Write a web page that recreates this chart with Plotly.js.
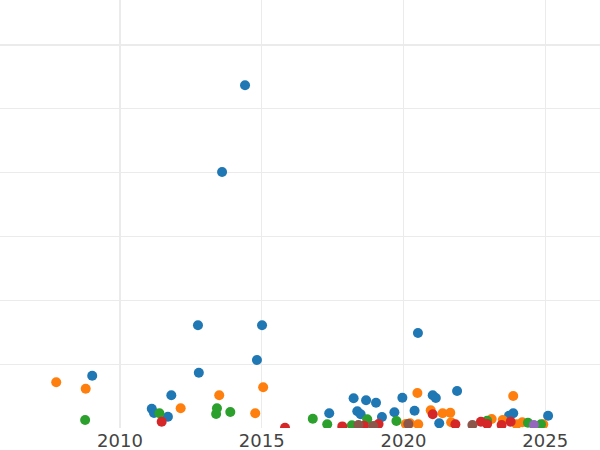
<!DOCTYPE html>
<html>
<head>
<meta charset="utf-8">
<script src="https://cdn.plot.ly/plotly-3.0.1.min.js"></script>
<style>html,body{margin:0;padding:0;background:#fff;}#chart{width:600px;height:450px;}</style>
</head>
<body>
<div id="chart"></div>
<script>
// Series values (x = year, y = value)
const seriesNames = ["A", "B", "C", "D", "E", "F"];
const seriesColors = ["#1f77b4", "#ff7f0e", "#2ca02c", "#d62728", "#9467bd", "#8c564b"];

const blueX = [2014.41, 2013.60, 2012.75, 2015.01, 2014.83, 2012.78, 2009.02, 2011.81, 2011.12, 2011.20, 2011.69,
  2020.51, 2018.24, 2018.68, 2019.03, 2018.37, 2018.49, 2019.24, 2019.68, 2019.96, 2017.38, 2020.39,
  2021.03, 2021.14, 2021.89, 2021.26, 2023.72, 2023.87, 2025.10];
const blueY = [53.7, 40.1, 16.1, 16.1, 10.65, 8.66, 8.19, 5.12, 3.02, 2.35, 1.77,
  14.88, 4.65, 4.34, 3.96, 2.62, 2.15, 1.72, 2.46, 4.75, 2.30, 2.71,
  5.12, 4.70, 5.80, 0.74, 1.93, 2.30, 1.93];

const orangeX = [2007.75, 2008.79, 2013.50, 2012.14, 2015.05, 2014.77, 2020.49, 2020.96, 2021.38, 2021.65, 2021.68,
  2020.23, 2020.52, 2020.08, 2023.11, 2023.50, 2023.87, 2023.99, 2024.19, 2024.93];
const orangeY = [7.16, 6.16, 5.12, 3.09, 6.38, 2.30, 5.48, 2.77, 2.30, 2.40, 0.89,
  0.74, 0.58, 0.63, 1.41, 1.25, 5.01, 0.58, 0.89, 0.58];

const greenX = [2008.77, 2011.39, 2013.42, 2013.39, 2013.89, 2016.80, 2017.31, 2018.18, 2018.72, 2019.75, 2022.95, 2024.39, 2024.85];
const greenY = [1.25, 2.30, 3.09, 2.19, 2.51, 1.46, 0.58, 0.42, 1.36, 1.10, 1.14, 0.83, 0.58];

const redX = [2011.47, 2015.82, 2017.84, 2018.61, 2019.12, 2021.03, 2021.83, 2022.73, 2022.95, 2023.46, 2023.78];
const redY = [0.99, 0.05, 0.25, 0.36, 0.63, 2.15, 0.58, 0.99, 0.63, 0.47, 0.99];

const purpleX = [2024.60];
const purpleY = [0.47];

const brownX = [2018.41, 2018.93, 2020.17, 2022.43];
const brownY = [0.47, 0.31, 0.63, 0.47];

const tickVals = [2010, 2015, 2020, 2025];
const tickText = ["2010", "2015", "2020", "2025"];

const xs = [blueX, orangeX, greenX, redX, purpleX, brownX];
const ys = [blueY, orangeY, greenY, redY, purpleY, brownY];

const traces = xs.map((x, i) => ({
  type: "scatter",
  mode: "markers",
  name: seriesNames[i],
  x: x,
  y: ys[i],
  marker: {color: seriesColors[i], size: 10, line: {width: 0}},
  cliponaxis: true
}));

const layout = {
  width: 600,
  height: 450,
  margin: {l: 0, r: 0, t: 0, b: 22, pad: 0},
  paper_bgcolor: "#ffffff",
  plot_bgcolor: "#ffffff",
  showlegend: false,
  font: {family: "DejaVu Sans", color: "#444444", size: 18},
  xaxis: {
    range: [2005.767, 2026.931],
    tickmode: "array",
    tickvals: tickVals,
    ticktext: tickText,
    showgrid: true,
    gridcolor: "#ebebeb",
    gridwidth: 1.3,
    zeroline: false,
    showline: false,
    ticks: "",
    tickfont: {family: "DejaVu Sans", size: 18, color: "#444444"}
  },
  yaxis: {
    range: [0, 67.05],
    dtick: 10,
    tick0: 0,
    showgrid: true,
    gridcolor: "#ebebeb",
    gridwidth: 1.3,
    zeroline: false,
    showline: false,
    showticklabels: false,
    ticks: ""
  }
};

Plotly.newPlot("chart", traces, layout, {displayModeBar: false, staticPlot: true});
</script>
</body>
</html>
